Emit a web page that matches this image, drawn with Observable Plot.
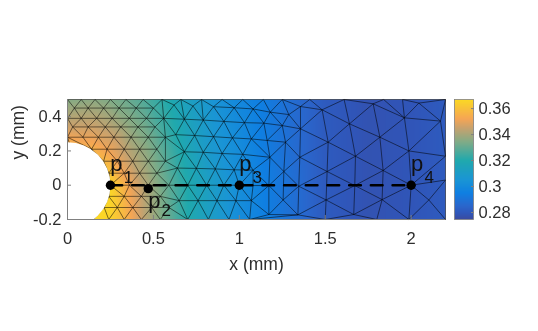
<!DOCTYPE html>
<html><head><meta charset="utf-8">
<style>html,body{margin:0;background:#fff}#c{position:relative;width:538px;height:331px}#c svg{position:absolute;left:0;top:0;background:transparent;filter:blur(.3px)}</style>
<script src="https://cdn.jsdelivr.net/npm/d3@7"></script>
<script src="https://cdn.jsdelivr.net/npm/@observablehq/plot@0.6"></script>
</head><body><div id="c"></div>
<script>
const font = "'Liberation Sans', Arial, sans-serif";
const inkColor = "#2e2e2e";
// stress field
const fieldX = [0,.15,.25,.35,.45,.55,.7,.85,1,1.15,1.3,1.5,1.75,2,2.2];
const fieldY = [.5,.35,.2,0,-.2];
const fieldV = [
 [.335,.336,.334,.331,.327,.322,.313,.305,.299,.294,.288,.281,.278,.279,.281],
 [.345,.345,.342,.337,.332,.325,.315,.306,.3,.294,.288,.281,.278,.279,.281],
 [.36,.356,.351,.343,.337,.329,.317,.307,.301,.294,.288,.281,.278,.279,.281],
 [.367,.367,.366,.353,.342,.333,.32,.31,.302,.295,.289,.281,.278,.279,.281],
 [.367,.367,.365,.355,.343,.334,.32,.31,.301,.295,.289,.281,.278,.279,.281]
];
const colorDomain = [.2746,.279,.285,.295,.305,.32,.335,.345,.352,.367];
const colorRange = ["#3b4a9e","#3055b8","#2a66cc","#0f7fe2","#1a95d5","#20a9ad","#85ab85","#c8a26e","#f5a555","#fbd924"];
// mesh vertices, dense part near the hole, by rows
const meshRowY = [-.2,-.13,-.065,0,.07,.14,.21,.28,.34,.39,.45,.5];
const meshRowX = [
 [.15,.24,.33,.43,.54],
 [.2135,.29,.38,.49,.59],
 [.24,.33,.43,.54],
 [.25,.36,.47,.59],
 [.24,.33,.42,.52],
 [.21,.29,.38,.47,.57],
 [.14,.23,.33,.42,.52],
 [0,.09,.18,.27,.37,.47,.57],
 [.03,.12,.22,.31,.41,.51],
 [0,.08,.17,.26,.36,.46,.56],
 [.04,.12,.21,.3,.4,.5],
 [0,.08,.16,.25,.34,.44,.55]
];
// mesh vertices, middle part
const midX = [.66,.78,.9,1.02, .62,.73,.85,.97,1.08, .68,.79,.91,1.03, .63,.74,.85,.96,1.07, .68,.79,.9,1.02, .64,.75,.86,.97,1.08, .7,.81,.91,1,1.08, .65,.76,.87,.98,1.07, .7,.82,.94,1.06];
const midY = [.5,.5,.5,.5, .468,.462,.458,.452,.445, .385,.38,.372,.365, .295,.29,.283,.276,.27, .195,.192,.185,.18, .1,.098,.095,.09,.088, 0,0,0,0,-.002, -.09,-.09,-.09,-.09,-.09, -.2,-.2,-.2,-.2];
// mesh vertices, right (coarse) part
const rightX = [1.18,1.288,1.356,1.482,1.641,1.779,1.961,2.045,2.171,1.143,1.25,1.356,1.517,1.818,1.987,2.2,1.162,1.269,1.178,1.352,1.676,1.837,1.259,1.511,1.346,1.672,2,1.172,1.255,1.505,1.831,2.103,1.341,1.666,1.987,1.172,2.2,2.2,2.2,1.14,1.25,1.41,1.61,1.84,1.95,1.5,1.8];
const rightY = [.426,.412,.459,.44,.358,.475,.393,.479,.374,.362,.348,.329,.251,.28,.2,.169,.261,.251,.163,.163,.169,.086,.08,.08,-.006,-.002,0,-.002,-.086,-.086,-.084,-.086,-.173,-.171,-.2,-.171,.03,-.2,.5,.5,.5,.5,.5,.5,.5,-.2,-.2];
// sampled points on the path
const pointX = [.25,.47,1,2];
const pointY = [0,-.02,0,0];
const pointSub = ["1","2","3","4"];
const xTicks = [0,.5,1,1.5,2];
const yTicks = [-.2,0,.2,.4];
const barTicks = [.28,.3,.32,.34,.36];

const field = fieldY.flatMap((y,j)=>fieldX.map((x,i)=>({x,y,v:fieldV[j][i]})));
const mesh = [
 ...meshRowY.flatMap((y,j)=>meshRowX[j].map(x=>[x,y])),
 ...midX.map((x,i)=>[x,midY[i]]),
 ...rightX.map((x,i)=>[x,rightY[i]])
];
const pts = pointX.map((x,i)=>({x,y:pointY[i],s:pointSub[i]}));
const above = pts.filter(d=>d.y===0), below = pts.filter(d=>d.y!==0);
const color = {type:"linear",domain:colorDomain,range:colorRange,interpolate:"rgb",clamp:true};

const main = Plot.plot({
  width:538,height:331,marginLeft:67,marginRight:93,marginTop:99,marginBottom:112,
  style:{fontFamily:font,background:"transparent"},
  x:{domain:[0,2.2]},y:{domain:[-.2,.5]},color,
  marks:[
    Plot.raster(field,{x:"x",y:"y",fill:"v",interpolate:"barycentric",pixelSize:1}),
    Plot.delaunayMesh(mesh,{x:d=>d[0],y:d=>d[1],stroke:"#000",strokeOpacity:.75,strokeWidth:.7}),
    Plot.dot([[0,0]],{x:d=>d[0],y:d=>d[1],r:43,fill:"white",clip:"frame"}),
    Plot.ruleY([-.2],{stroke:"#808080",strokeWidth:1}),
    Plot.ruleX([0],{stroke:"#808080",strokeWidth:1}),
    Plot.axisX({ticks:xTicks,tickFormat:d=>String(d),tickSize:-4,tickPadding:17,stroke:"#808080",color:inkColor,fontSize:16.5,label:null}),
    Plot.axisY({ticks:yTicks,tickFormat:d=>String(d),tickSize:-4,tickPadding:10,stroke:"#808080",color:inkColor,fontSize:16.5,label:null}),
    Plot.text(["x (mm)"],{frameAnchor:"bottom",dy:50,fontSize:17.5,fill:inkColor}),
    Plot.text(["y (mm)"],{frameAnchor:"left",dx:-49,rotate:-90,fontSize:17.5,fill:inkColor}),
    Plot.line(above,{x:"x",y:"y",stroke:"black",strokeWidth:2.5,strokeDasharray:"11.7,10"}),
    Plot.dot(pts,{x:"x",y:"y",r:4.7,fill:"black"}),
    Plot.text(above,{x:"x",y:"y",text:()=>"p",dx:6,dy:-21,fontSize:22,fill:"#111"}),
    Plot.text(above,{x:"x",y:"y",text:"s",dx:18,dy:-8,fontSize:17,fill:"#111"}),
    Plot.text(below,{x:"x",y:"y",text:()=>"p",dx:6,dy:12,fontSize:22,fill:"#111"}),
    Plot.text(below,{x:"x",y:"y",text:"s",dx:18,dy:22,fontSize:17,fill:"#111"})
  ]
});
const bar = Plot.plot({
  width:538,height:331,marginLeft:454,marginRight:65,marginTop:99,marginBottom:112,
  style:{fontFamily:font,background:"transparent"},
  x:{domain:[0,1],axis:null},y:{domain:[.2746,.367]},color,
  marks:[
    Plot.raster({fill:(x,y)=>y,x1:0,x2:1,y1:.2746,y2:.367,width:1,height:120}),
    Plot.frame({stroke:"#808080",strokeWidth:.8}),
    Plot.axisY({anchor:"right",ticks:barTicks,tickFormat:d=>String(d),tickSize:-3,tickPadding:8,stroke:"#808080",color:inkColor,fontSize:16.5,label:null})
  ]
});
document.getElementById("c").append(main,bar);
</script></body></html>
